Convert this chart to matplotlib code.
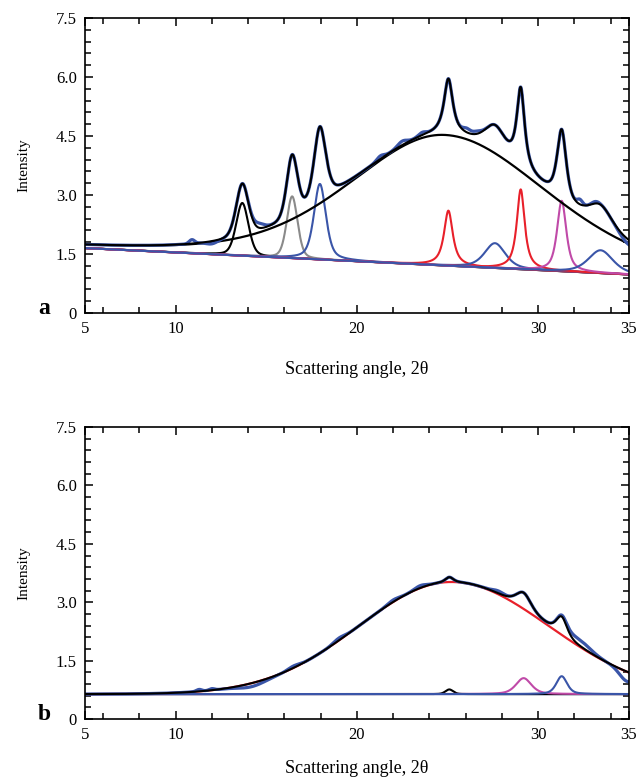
import numpy as np
import matplotlib
matplotlib.use('Agg')
import matplotlib.pyplot as plt
from matplotlib.ticker import MultipleLocator, FixedLocator

plt.rcParams['font.family'] = ['Liberation Serif', 'DejaVu Serif']

BLUE = '#3a55a8'
RED = '#e8202a'
MAGENTA = '#c04aa8'
GRAY = '#8a8a8a'

# axis ticks
xticks = [5, 10, 20, 30, 35]
yticks = [0, 1.5, 3.0, 4.5, 6.0, 7.5]
ytick_labels = ['0', '1.5', '3.0', '4.5', '6.0', '7.5']

# ---- panel a ----
base_a = [1.65, 0.98]            # linear baseline at 2theta = 5 and 35
hump_a = [24.85, 3.32, 5.25, 5.7, 0.30]   # centre, height, sigma left, sigma right, lorentz frac
peak_a_centre = [13.68, 16.43, 17.96, 25.05, 27.62, 29.04, 31.30, 33.45]
peak_a_height = [1.34, 1.57, 1.92, 1.40, 0.63, 2.03, 1.79, 0.58]
peak_a_fwhm = [0.80, 0.70, 0.78, 0.58, 1.35, 0.52, 0.60, 1.60]
peak_a_eta = [0.3, 0.3, 0.5, 0.9, 0.5, 0.9, 0.7, 0.5]
peak_a_color = ['black', GRAY, BLUE, RED, BLUE, RED, MAGENTA, BLUE]
# small features of the measured trace that the fit misses
resid_a_centre = [10.9, 12.0, 14.6, 21.3, 22.5, 23.6, 26.05, 26.6, 32.3, 33.15, 35.0]
resid_a_amp = [0.10, -0.07, 0.12, 0.08, 0.10, 0.07, 0.10, 0.07, 0.13, 0.05, -0.12]
resid_a_width = [0.15, 0.3, 0.3, 0.2, 0.25, 0.2, 0.2, 0.25, 0.15, 0.2, 0.4]

# ---- panel b ----
base_b = [0.64, 0.64]
hump_b = [25.2, 2.88, 5.1, 5.4, 0.0]
peak_b_centre = [25.1, 29.2, 31.3]
peak_b_height = [0.12, 0.41, 0.46]
peak_b_fwhm = [0.5, 1.0, 0.7]
peak_b_eta = [0.3, 0.5, 0.5]
peak_b_color = ['black', MAGENTA, BLUE]
resid_b_centre = [11.3, 12.0, 14.2, 16.5, 19.0, 22.0, 23.5, 27.8, 32.3, 34.9]
resid_b_amp = [0.05, 0.04, -0.09, 0.05, 0.06, 0.05, 0.06, 0.06, 0.15, -0.25]
resid_b_width = [0.15, 0.15, 0.7, 0.3, 0.3, 0.3, 0.3, 0.3, 0.6, 0.4]

x = np.linspace(5, 35, 1501)


def pvoigt(c, h, w, eta):
    g = np.exp(-4 * np.log(2) * ((x - c) / w) ** 2)
    l = 1 / (1 + ((x - c) / (w / 2)) ** 2)
    return h * (eta * l + (1 - eta) * g)


def hump(p):
    c, h, sl, sr, eta = p
    s = np.where(x < c, sl, sr)
    g = np.exp(-0.5 * ((x - c) / s) ** 2)
    l = 1 / (1 + ((x - c) / (1.1774 * s)) ** 2)
    return h * (eta * l + (1 - eta) * g)


def panel(ax, base, hp, pc, ph, pw, pe, pcol, rc, ra, rw, hump_color, base_color,
          letter, xpad):
    bl = np.interp(x, [5, 35], base)
    hm = hump(hp)
    peaks = [pvoigt(c, h, w, e) for c, h, w, e in zip(pc, ph, pw, pe)]
    fit = bl + hm + np.sum(peaks, axis=0)
    obs = fit.copy()
    for c, a, w in zip(rc, ra, rw):
        obs += a * np.exp(-0.5 * ((x - c) / w) ** 2)

    ax.plot(x, bl, color=base_color, lw=1.5)
    for p, col in zip(peaks, pcol):
        ax.plot(x, bl + p, color=col, lw=1.5)
    ax.plot(x, bl + hm, color=hump_color, lw=1.6)
    ax.plot(x, obs, color=BLUE, lw=2.3)
    ax.plot(x, fit, color='black', lw=1.5)

    ax.set_xlim(5, 35)
    ax.set_ylim(0, 7.5)
    ax.xaxis.set_major_locator(FixedLocator(xticks))
    ax.xaxis.set_minor_locator(FixedLocator([6, 8, 12, 14, 16, 18, 22, 24, 26, 28, 32, 34]))
    ax.set_xticklabels([str(t) for t in xticks])
    ax.yaxis.set_major_locator(FixedLocator(yticks))
    ax.yaxis.set_minor_locator(MultipleLocator(0.3))
    ax.set_yticklabels(ytick_labels)
    ax.tick_params(which='both', direction='in', top=True, right=True, width=1.1,
                   labelsize=12, pad=6)
    ax.tick_params(which='major', length=6)
    ax.tick_params(which='minor', length=4.5)
    for sp in ax.spines.values():
        sp.set_linewidth(1.2)
    ax.set_ylabel('Intensity', fontsize=11, labelpad=18)
    ax.set_xlabel('Scattering angle, 2θ', fontsize=13, labelpad=xpad)
    ax.text(-0.075, -0.005, letter, transform=ax.transAxes, fontsize=17,
            fontweight='bold', ha='center', va='baseline')


fig = plt.figure(figsize=(6.36, 7.78), dpi=100)
ax_a = fig.add_axes([0.1336, 0.5977, 0.855, 0.3792])
ax_b = fig.add_axes([0.1336, 0.0758, 0.855, 0.3753])

panel(ax_a, base_a, hump_a, peak_a_centre, peak_a_height, peak_a_fwhm, peak_a_eta,
      peak_a_color, resid_a_centre, resid_a_amp, resid_a_width, 'black', RED, 'a', 17)
panel(ax_b, base_b, hump_b, peak_b_centre, peak_b_height, peak_b_fwhm, peak_b_eta,
      peak_b_color, resid_b_centre, resid_b_amp, resid_b_width, RED, BLUE, 'b', 12)

fig.savefig('out.png', dpi=100)
